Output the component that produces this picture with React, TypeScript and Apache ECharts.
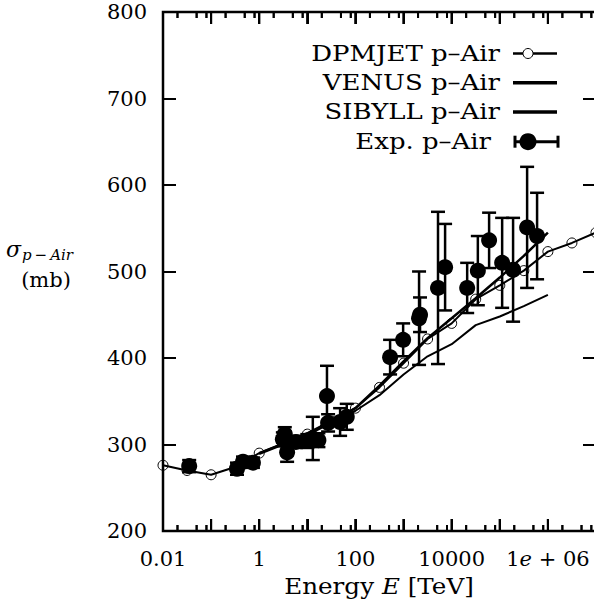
import React, { useEffect, useRef } from "react";
import * as echarts from "echarts";

const FONT = "DejaVu Serif";

// DPMJET p-Air (open circles with line)
const DPMJET_E = [0.01, 0.0316, 0.1, 0.316, 1, 3.16, 10, 31.6, 100, 316, 1000, 3160, 10000, 31600, 100000, 316000, 1000000, 3160000, 10000000];
const DPMJET_V = [276, 270, 265, 274, 290, 301, 312, 327, 342, 366, 394, 422, 440, 468, 484, 501, 523, 533, 545];

// VENUS p-Air
const VENUS_E = [1, 3.16, 10, 31.6, 100, 316, 1000, 3160, 10000, 31600, 100000, 316000, 1000000];
const VENUS_V = [290, 301, 313, 327, 342, 368, 396, 423, 446, 469, 493, 518, 545];

// SIBYLL p-Air
const SIBYLL_E = [1, 3.16, 10, 31.6, 100, 316, 1000, 3160, 10000, 31600, 100000, 316000, 1000000];
const SIBYLL_V = [289, 300, 311, 325, 339, 357, 381, 402, 416, 438, 448, 460, 473];

// Experimental p-Air
const EXP_E = [0.035, 0.345, 0.46, 0.74, 3.1, 3.4, 3.8, 5.8, 10, 13, 17, 25.6, 27, 48, 66, 525, 980, 2100, 2200, 5200, 7300, 21000, 35000, 60000, 112000, 189000, 370000, 596000];
const EXP_V = [275, 272, 280, 279, 306, 312, 291, 303, 304, 307, 305, 356, 325, 326, 332, 401, 421, 446, 450, 481, 505, 481, 501, 536, 510, 502, 551, 541];
const EXP_ERR = [7, 7, 6, 6, 8, 8, 11, 7, 8, 25, 8, 35, 10, 16, 15, 20, 19, 54, 20, 88, 50, 29, 40, 32, 52, 60, 70, 50];

// Axis ticks and labels
const X_LABEL_E = [0.01, 1, 100, 10000, 1000000];
const X_LABELS = ["0.01", "1", "100", "10000", "1{i|e} + 06"];
const X_DECADES = [0.01, 0.1, 1, 10, 100, 1000, 10000, 100000, 1000000, 10000000];
const X_MINOR_MULT = [2, 5, 8];
const LEGEND_NAMES = ["DPMJET p\u2013Air", "VENUS p\u2013Air", "SIBYLL p\u2013Air", "Exp. p\u2013Air"];

export default function App() {
  const ref = useRef<HTMLDivElement>(null);
  useEffect(() => {
    if (!ref.current) return;
    const chart = echarts.init(ref.current, null, { renderer: "svg" });

    const labelFor = (v: number) => {
      for (let i = 0; i < X_LABEL_E.length; i++) {
        if (Math.abs(Math.log10(v) - Math.log10(X_LABEL_E[i])) < 1e-6) return X_LABELS[i];
      }
      return "";
    };

    // rows: [E, value, size, kind]  kind 0 = error bar, kind 1 = x tick
    const tickRows: number[][] = [];
    X_DECADES.forEach((d, i) => {
      tickRows.push([d, 500, 12, 1]);
      if (i < X_DECADES.length - 1) X_MINOR_MULT.forEach((m) => tickRows.push([d * m, 500, 6, 1]));
    });
    const rows: number[][] = EXP_E.map((e, i) => [e, EXP_V[i], EXP_ERR[i], 0]).concat(tickRows);

    const black = "#000";
    const legendRows = [53.5, 82.7, 112, 141.7];
    const legendRight = [500, 500, 500, 491];

    const graphic: any[] = [];
    LEGEND_NAMES.forEach((n, i) => {
      graphic.push({
        type: "text",
        x: legendRight[i],
        y: legendRows[i],
        scaleX: 1.18,
        style: { text: n, fill: black, fontFamily: FONT, fontSize: 22, align: "right", verticalAlign: "middle" },
      });
    });
    graphic.push({ type: "line", shape: { x1: 513, y1: legendRows[0], x2: 557, y2: legendRows[0] }, style: { stroke: black, lineWidth: 2.5 } });
    graphic.push({ type: "circle", shape: { cx: 528, cy: legendRows[0], r: 5 }, style: { fill: "#fff", stroke: black, lineWidth: 1 } });
    graphic.push({ type: "line", shape: { x1: 513, y1: legendRows[1], x2: 557, y2: legendRows[1] }, style: { stroke: black, lineWidth: 3.5 } });
    graphic.push({ type: "line", shape: { x1: 513, y1: legendRows[2], x2: 557, y2: legendRows[2] }, style: { stroke: black, lineWidth: 3.5 } });
    graphic.push({ type: "line", shape: { x1: 515, y1: legendRows[3], x2: 558, y2: legendRows[3] }, style: { stroke: black, lineWidth: 3 } });
    graphic.push({ type: "line", shape: { x1: 515, y1: legendRows[3] - 6, x2: 515, y2: legendRows[3] + 6 }, style: { stroke: black, lineWidth: 3 } });
    graphic.push({ type: "line", shape: { x1: 558, y1: legendRows[3] - 6, x2: 558, y2: legendRows[3] + 6 }, style: { stroke: black, lineWidth: 3 } });
    graphic.push({ type: "circle", shape: { cx: 528, cy: legendRows[3], r: 8.5 }, style: { fill: black } });
    graphic.push({ type: "text", x: 6, y: 249, style: { text: "\u03c3", fill: black, fontFamily: FONT, fontSize: 22, fontStyle: "italic", align: "left", verticalAlign: "middle" } });
    graphic.push({ type: "text", x: 22, y: 255, style: { text: "p\u2009\u2212\u2009Air", fill: black, fontFamily: FONT, fontSize: 15, fontStyle: "italic", align: "left", verticalAlign: "middle" } });
    graphic.push({ type: "text", x: 46, y: 280, style: { text: "(mb)", fill: black, fontFamily: FONT, fontSize: 21, align: "center", verticalAlign: "middle" } });
    graphic.push({
      type: "text",
      x: 379,
      y: 586,
      scaleX: 1.12,
      style: {
        text: "Energy {i|E} [TeV]",
        fill: black,
        fontFamily: FONT,
        fontSize: 22,
        align: "center",
        verticalAlign: "middle",
        rich: { i: { fontFamily: FONT, fontSize: 22, fontStyle: "italic", fill: black } },
      },
    });

    const yAxisBase = {
      type: "value",
      min: 200,
      max: 800,
      interval: 100,
      axisLine: { show: false },
      axisTick: { show: true, inside: true, length: 13, lineStyle: { color: black, width: 2 } },
      splitLine: { show: false },
    };

    const option: any = {
      animation: false,
      grid: { left: 163, top: 12, width: 433, height: 519, show: true, borderColor: black, borderWidth: 2.5, backgroundColor: "transparent" },
      xAxis: [
        {
          type: "log",
          logBase: 10,
          min: 0.01,
          max: 10000000,
          splitNumber: 9,
          position: "bottom",
          axisLine: { show: false },
          axisTick: { show: true, inside: true, length: 12, lineStyle: { color: black, width: 2 } },
          splitLine: { show: false },
          axisLabel: {
            formatter: labelFor,
            fontFamily: FONT,
            fontSize: 21,
            color: black,
            margin: 17,
            rich: { i: { fontFamily: FONT, fontSize: 21, fontStyle: "italic", color: black } },
          },
        },
        {
          type: "log",
          logBase: 10,
          min: 0.01,
          max: 10000000,
          splitNumber: 9,
          position: "top",
          axisLine: { show: false },
          axisTick: { show: true, inside: true, length: 12, lineStyle: { color: black, width: 2 } },
          splitLine: { show: false },
          axisLabel: { show: false },
        },
      ],
      yAxis: [
        { ...yAxisBase, position: "left", axisLabel: { fontFamily: FONT, fontSize: 21, color: black, margin: 16 } },
        { ...yAxisBase, position: "right", axisLabel: { show: false } },
      ],
      graphic,
      series: [
        {
          type: "custom",
          name: "Exp. p\u2013Air errors",
          silent: true,
          z: 3,
          data: rows,
          encode: { x: 0, y: 1 },
          renderItem: (params: any, api: any) => {
            const e = api.value(0);
            const v = api.value(1);
            const s = api.value(2);
            const kind = api.value(3);
            if (kind === 1) {
              const b = api.coord([e, 200]);
              const t = api.coord([e, 800]);
              const tst = { stroke: black, lineWidth: 2 };
              return {
                type: "group",
                children: [
                  { type: "line", shape: { x1: b[0], y1: b[1], x2: b[0], y2: b[1] - s }, style: tst },
                  { type: "line", shape: { x1: t[0], y1: t[1], x2: t[0], y2: t[1] + s }, style: tst },
                ],
              };
            }
            const lo = api.coord([e, v - s]);
            const hi = api.coord([e, v + s]);
            const w = 7;
            const st = { stroke: black, lineWidth: 2.5 };
            return {
              type: "group",
              children: [
                { type: "line", shape: { x1: lo[0], y1: lo[1], x2: hi[0], y2: hi[1] }, style: st },
                { type: "line", shape: { x1: lo[0] - w, y1: lo[1], x2: lo[0] + w, y2: lo[1] }, style: st },
                { type: "line", shape: { x1: hi[0] - w, y1: hi[1], x2: hi[0] + w, y2: hi[1] }, style: st },
              ],
            };
          },
        },
        {
          type: "scatter",
          name: "Exp. p\u2013Air",
          z: 4,
          symbol: "circle",
          symbolSize: 16,
          itemStyle: { color: black, opacity: 1 },
          data: EXP_E.map((e, i) => [e, EXP_V[i]]),
        },
        {
          type: "line",
          name: "SIBYLL p\u2013Air",
          z: 5,
          showSymbol: false,
          symbol: "none",
          lineStyle: { color: black, width: 2 },
          data: SIBYLL_E.map((e, i) => [e, SIBYLL_V[i]]),
        },
        {
          type: "line",
          name: "VENUS p\u2013Air",
          z: 5,
          showSymbol: false,
          symbol: "none",
          lineStyle: { color: black, width: 2.5 },
          data: VENUS_E.map((e, i) => [e, VENUS_V[i]]),
        },
        {
          type: "line",
          name: "DPMJET p\u2013Air",
          z: 6,
          symbol: "circle",
          symbolSize: 10,
          itemStyle: { color: "rgba(255,255,255,0)", borderColor: black, borderWidth: 1, opacity: 1 },
          lineStyle: { color: black, width: 2 },
          data: DPMJET_E.map((e, i) => [e, DPMJET_V[i]]),
        },
      ],
    };
    chart.setOption(option);

    // extra tick marks as small filled rects, positioned through the chart's own scales
    try {
      const yb = chart.convertToPixel({ yAxisIndex: 0 }, 200) as number;
      const yt = chart.convertToPixel({ yAxisIndex: 0 }, 800) as number;
      const rects: any[] = [];
      tickRows.forEach((r) => {
        const x = chart.convertToPixel({ xAxisIndex: 0 }, r[0]) as number;
        const len = r[2];
        if (typeof x !== "number" || !isFinite(x) || typeof yb !== "number" || !isFinite(yb)) return;
        rects.push({ type: "rect", shape: { x: x - 1, y: yb - len, width: 2, height: len }, style: { fill: "#111" } });
        rects.push({ type: "rect", shape: { x: x - 1, y: yt, width: 2, height: len }, style: { fill: "#111" } });
      });
      if (rects.length) chart.setOption({ graphic: graphic.concat(rects) });
    } catch (err) {
      // keep the chart as it is
    }

    return () => chart.dispose();
  }, []);

  return (
    <div style={{ position: "absolute", left: 0, top: 0, width: 594, height: 606, overflow: "hidden", background: "#fff" }}>
      <div ref={ref} style={{ width: 600, height: 606 }} />
    </div>
  );
}
